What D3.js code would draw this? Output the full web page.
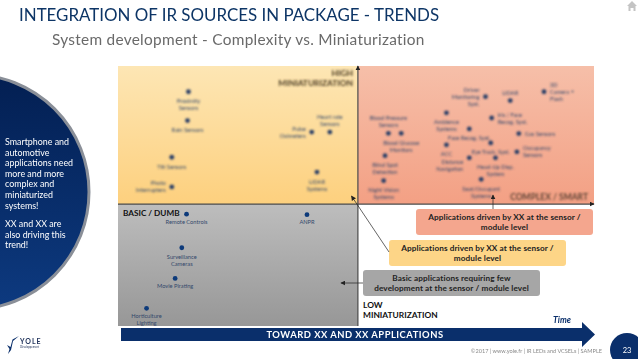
<!DOCTYPE html>
<html>
<head>
<meta charset="utf-8">
<script src="https://cdn.jsdelivr.net/npm/d3@7"></script>
<style>
  html, body { margin: 0; padding: 0; background: #fff; overflow: hidden; }
  svg { display: block; }
  text { font-family: Lato, "Open Sans", sans-serif; }
</style>
</head>
<body>
<div id="main"></div>
<script>
// values (complexity / miniaturization on a 0-100 grid)
const appNames = [
  "Proximity|Sensors", "Rain Sensors", "Tilt Sensors", "Photo|Interrupters",
  "Pulse|Oximeters", "Heart rate|Sensors", "LIDAR|Systems",
  "Driver|Monitoring|Syst.", "LIDAR", "3D|Camera +|Flash", "Iris / Face|Recog. Syst.",
  "Gas Sensors", "Occupancy|Sensors", "Eye Track. Syst.", "Head-Up Disp.|System",
  "Seat/Occupant|Systems", "Face Recog. Syst.", "Ambience|Systems", "ACC",
  "Distance|Navigation", "Blood Pressure|Sensors", "Blood Glucose|Monitors",
  "Blind Spot|Detection", "Night Vision|Systems",
  "Remote Controls", "ANPR", "Surveillance|Cameras", "Movie Pirating", "Horticulture|Lighting"
];
const complexity = [
  14.8, 14.6, 11.3, 11.3, 40.7, 44.5, 41.8,
  77.2, 82.4, 89.5, 78.5, 84.2, 83.8, 78.3, 79.3, 76.3, 73.8, 69.0, 69.0, 73.8,
  56.8, 59.5, 56.1, 55.8,
  14.4, 39.7, 13.4, 12.0, 6.0
];
const miniaturization = [
  90.1, 79.0, 64.9, 53.5, 74.6, 74.6, 59.2,
  88.2, 86.7, 90.1, 80.0, 74.0, 67.0, 70.4, 64.7, 56.4, 75.8, 82.0, 69.7, 64.7,
  74.1, 74.1, 65.5, 55.9,
  43.0, 42.8, 30.1, 18.3, 6.8
];
// where the label sits relative to its dot
const labelSides = [
  "b", "b", "b", "l", "l", "t", "b",
  "l", "t", "r", "r", "r", "r", "b", "b", "b", "b", "b", "b", "bl",
  "t", "b", "b", "b",
  "bn", "bn", "b", "bn", "bn"
];
const xSplit = 50.4;
const ySplit = 46.9;

const titleText = "INTEGRATION OF IR SOURCES IN PACKAGE - TRENDS";
const subtitleText = "System development - Complexity vs. Miniaturization";
const sideLines = ["Smartphone and", "automotive", "applications need", "more and more", "complex and", "miniaturized", "systems!"];
const sideLines2 = ["XX and XX are", "also driving this", "trend!"];
const boxLines = [
  ["Applications driven by XX at the sensor /", "module level"],
  ["Applications driven by XX at the sensor /", "module level"],
  ["Basic applications requiring few", "development at the sensor / module level"]
];

const ctx = { w: 638, h: 359, navy: "#0a2f6b" };
const apps = appNames.map((name, i) => ({
  lines: name.split("|"), x: complexity[i], y: miniaturization[i], side: labelSides[i]
}));

const svg = d3.select("#main").append("svg").attr("width", ctx.w).attr("height", ctx.h);
const defs = svg.append("defs");

function addGradient(id, top, bottom) {
  let g = defs.append("linearGradient").attr("id", id)
    .attr("x1", 0).attr("y1", 0).attr("x2", 0).attr("y2", 1);
  g.append("stop").attr("offset", 0).attr("stop-color", top);
  g.append("stop").attr("offset", 1).attr("stop-color", bottom);
}
addGradient("gYellow", "#fde6b4", "#fdd07e");
addGradient("gRed", "#f6bfa9", "#f3a084");
addGradient("gGrey", "#bdbdbd", "#979797");
addGradient("gNavy", "#031f52", "#0d3a80");
defs.append("filter").attr("id", "blur").append("feGaussianBlur").attr("stdDeviation", 1.05);

defs.append("marker").attr("id", "tip").attr("viewBox", "0 0 8 8")
  .attr("refX", 7).attr("refY", 4).attr("markerWidth", 5).attr("markerHeight", 5)
  .attr("markerUnits", "userSpaceOnUse").attr("orient", "auto")
  .append("path").attr("d", "M0,0L8,4L0,8Z").attr("fill", "#222");

const xScale = d3.scaleLinear().domain([0, 100]).range([118, 594]);
const yScale = d3.scaleLinear().domain([0, 100]).range([326, 66]);

// quadrants
const quadrants = [
  { x0: 0, x1: xSplit, y0: ySplit, y1: 100, fill: "url(#gYellow)" },
  { x0: xSplit, x1: 100, y0: ySplit, y1: 100, fill: "url(#gRed)" },
  { x0: 0, x1: xSplit, y0: 0, y1: ySplit, fill: "url(#gGrey)" }
];
svg.append("g").selectAll("rect").data(quadrants).join("rect")
  .attr("x", d => xScale(d.x0))
  .attr("y", d => yScale(d.y1))
  .attr("width", d => xScale(d.x1) - xScale(d.x0))
  .attr("height", d => yScale(d.y0) - yScale(d.y1))
  .attr("fill", d => d.fill);

// axes through the middle
const axisG = svg.append("g").attr("stroke", "#4a4a4a").attr("fill", "none");
axisG.append("line")
  .attr("x1", xScale(0)).attr("x2", xScale(100))
  .attr("y1", yScale(ySplit)).attr("y2", yScale(ySplit))
  .attr("stroke-width", 1.2).attr("marker-end", "url(#tip)");
axisG.append("line")
  .attr("x1", xScale(xSplit)).attr("x2", xScale(xSplit))
  .attr("y1", yScale(0)).attr("y2", yScale(100))
  .attr("stroke-width", 1.2).attr("marker-end", "url(#tip)");

// dots and labels; the top two quadrants are blurred out in the original
const blurG = svg.append("g").attr("filter", "url(#blur)");
const sharpG = svg.append("g");

function drawApps(parent, data, color) {
  let node = parent.selectAll("g.app").data(data).join("g").attr("class", "app")
    .attr("transform", d => `translate(${xScale(d.x)},${yScale(d.y)})`);
  node.append("circle").attr("r", 2.4).attr("fill", color);
  node.each(function(d) {
    let lh = 7;
    let n = d.lines.length;
    let anchor = d.side === "l" || d.side === "bl" ? "end" : d.side === "r" ? "start" : "middle";
    let dx = d.side === "l" || d.side === "bl" ? -6 : d.side === "r" ? 6 : 0;
    let y0 = 11.5;
    if (d.side === "bn") y0 = 9.5;
    if (d.side === "t") y0 = -6 - (n - 1) * lh;
    if (d.side === "l" || d.side === "r") y0 = 2 - (n - 1) * lh / 2;
    if (d.side === "bl") y0 = 6;
    d3.select(this).selectAll("text").data(d.lines).join("text")
      .attr("x", dx)
      .attr("y", (t, i) => y0 + i * lh)
      .attr("text-anchor", anchor)
      .attr("font-size", 5.7)
      .attr("fill", "#33486b")
      .text(t => t);
  });
}
drawApps(blurG, apps.filter(d => d.y > ySplit), "#2c3f68");
drawApps(sharpG, apps.filter(d => d.y <= ySplit), "#0d3a7a");

// quadrant captions
blurG.append("text").attr("x", 353).attr("y", 75.5).attr("text-anchor", "end")
  .attr("font-size", 8.4).attr("font-weight", 700).attr("fill", "#4a3a22").text("HIGH");
blurG.append("text").attr("x", 353).attr("y", 85.5).attr("text-anchor", "end")
  .attr("font-size", 8.4).attr("font-weight", 700).attr("fill", "#4a3a22").text("MINIATURIZATION");
blurG.append("text").attr("x", 588).attr("y", 200).attr("text-anchor", "end")
  .attr("font-size", 8.5).attr("font-weight", 700).attr("fill", "#5f4436").text("COMPLEX / SMART");
svg.append("text").attr("x", 123).attr("y", 215.5)
  .attr("font-size", 8.2).attr("font-weight", 700).attr("fill", "#111").text("BASIC / DUMB");
svg.append("text").attr("x", 363).attr("y", 308)
  .attr("font-size", 8.4).attr("font-weight", 700).attr("fill", "#111").text("LOW");
svg.append("text").attr("x", 363).attr("y", 318)
  .attr("font-size", 8.4).attr("font-weight", 700).attr("fill", "#111").text("MINIATURIZATION");

// category boxes
const boxes = [
  { x: 416, y: 209, fill: "#f4a68e" },
  { x: 389, y: 240, fill: "#fdd587" },
  { x: 363, y: 270, fill: "#a6a6a6" }
];
const boxG = svg.append("g").selectAll("g").data(boxes).join("g")
  .attr("transform", d => `translate(${d.x},${d.y})`);
boxG.append("rect").attr("width", 177).attr("height", 26).attr("rx", 3).attr("fill", d => d.fill);
boxG.each(function(d, i) {
  d3.select(this).selectAll("text").data(boxLines[i]).join("text")
    .attr("x", 88.5)
    .attr("y", (t, j) => 10.5 + j * 10)
    .attr("text-anchor", "middle")
    .attr("font-size", 8.2)
    .attr("letter-spacing", 0.1)
    .attr("font-weight", 700)
    .attr("fill", "#222")
    .text(t => t);
});

// leader arrows from the boxes
const leaders = [
  [493, 209, 493, 195],
  [389, 252, 351.5, 196],
  [363, 283, 341, 283]
];
svg.append("g").selectAll("line").data(leaders).join("line")
  .attr("x1", d => d[0]).attr("y1", d => d[1])
  .attr("x2", d => d[2]).attr("y2", d => d[3])
  .attr("stroke", "#222").attr("stroke-width", 0.7)
  .attr("marker-end", "url(#tip)");

// time arrow
svg.append("path")
  .attr("d", "M121,328H582V322L595,334.5L582,347V341H121Z")
  .attr("fill", ctx.navy);
svg.append("text").attr("x", 355).attr("y", 338)
  .attr("text-anchor", "middle").attr("font-size", 9.4).attr("font-weight", 700)
  .attr("letter-spacing", 0.5).attr("fill", "#fff").text("TOWARD XX AND XX APPLICATIONS");
svg.append("text").attr("x", 553).attr("y", 323)
  .attr("font-size", 8.6).attr("font-weight", 700).attr("font-style", "italic")
  .attr("fill", ctx.navy).text("Time");

// side panel
svg.append("circle").attr("cx", -28.5).attr("cy", 192).attr("r", 117.5)
  .attr("fill", "url(#gNavy)").attr("stroke", "#8a8f98").attr("stroke-width", 3);
const sideG = svg.append("g").attr("fill", "#fff").attr("font-size", 8.9);
sideG.selectAll("text.a").data(sideLines).join("text").attr("class", "a")
  .attr("x", 5).attr("y", (t, i) => 145 + i * 10.6).text(t => t);
sideG.selectAll("text.b").data(sideLines2).join("text").attr("class", "b")
  .attr("x", 5).attr("y", (t, i) => 227 + i * 10.6).text(t => t);

// header
svg.append("text").attr("x", 19).attr("y", 21)
  .attr("font-size", 16.9).attr("fill", "#0d3566").text(titleText);
svg.append("text").attr("x", 52).attr("y", 45)
  .attr("font-size", 15.4).attr("letter-spacing", 0.28).attr("fill", "#6a6a6a").text(subtitleText);

// home icon
svg.append("path")
  .attr("d", "M632,1L637,6H635.5V11H633.5V8H630.5V11H628.5V6H627Z")
  .attr("fill", "#c4c4c4");

// footer
svg.append("text").attr("x", 602).attr("y", 353).attr("text-anchor", "end")
  .attr("font-size", 5.6).attr("fill", "#8a8a8a")
  .text("©2017 | www.yole.fr | IR LEDs and VCSELs | SAMPLE");
svg.append("circle").attr("cx", 627).attr("cy", 350).attr("r", 17).attr("fill", ctx.navy);
svg.append("text").attr("x", 627).attr("y", 353).attr("text-anchor", "middle")
  .attr("font-size", 7.5).attr("fill", "#fff").text("23");

// logo
svg.append("path").attr("d", "M7,345L9.5,349L8,354L11,350L13,341L19,336L12.5,339.5L10.5,347Z").attr("fill", ctx.navy);
svg.append("text").attr("x", 20).attr("y", 344)
  .attr("font-size", 7).attr("font-weight", 700).attr("letter-spacing", 1).attr("fill", "#24365e").text("YOLE");
svg.append("text").attr("x", 20).attr("y", 347.5)
  .attr("font-size", 2.7).attr("fill", "#24365e").text("Développement");
</script>
</body>
</html>
